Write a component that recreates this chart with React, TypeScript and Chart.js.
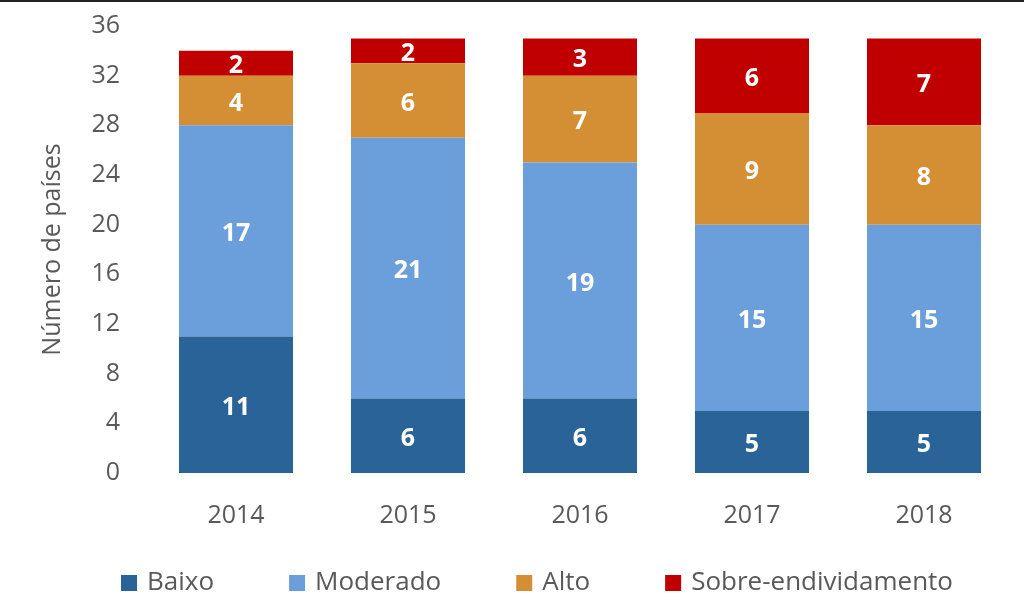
import React, { useEffect, useRef } from "react";
import { Chart, registerables } from "chart.js";

Chart.register(...registerables);

const categories = ["2014", "2015", "2016", "2017", "2018"];
const baixo = [11, 6, 6, 5, 5];
const moderado = [17, 21, 19, 15, 15];
const alto = [4, 6, 7, 9, 8];
const sobre = [2, 2, 3, 6, 7];
const seriesNames = ["Baixo", "Moderado", "Alto", "Sobre-endividamento"];
const seriesColors = ["#2A6398", "#6A9FDB", "#D48F35", "#C00000"];
const yTitle = "Número de países";

const FONT = "'Open Sans', 'Noto Sans', sans-serif";
const GRAY = "#595959";

const valueLabels = {
  id: "valueLabels",
  afterDatasetsDraw(chart: any) {
    const ctx = chart.ctx;
    ctx.save();
    ctx.font = `bold 25px ${FONT}`;
    ctx.fillStyle = "#FFFFFF";
    ctx.textAlign = "center";
    ctx.textBaseline = "middle";
    chart.data.datasets.forEach((ds: any, di: number) => {
      const meta = chart.getDatasetMeta(di);
      meta.data.forEach((el: any, i: number) => {
        const v = ds.data[i];
        if (!v) return;
        const props = el.getProps(["x", "y", "base"], true);
        ctx.fillText(String(v), props.x, (props.y + props.base) / 2 + 3);
      });
    });
    ctx.restore();
  },
};

// Wide-spaced bottom legend (items spaced like the original)
const wideLegend = {
  id: "wideLegend",
  afterDraw(chart: any) {
    const ctx = chart.ctx;
    const box = 16;
    const gapText = 10;
    const gapItem = 75;
    const cy = 583;
    const center = 537;
    ctx.save();
    ctx.font = `26px ${FONT}`;
    const items = chart.data.datasets.map((ds: any) => ({
      text: ds.label,
      color: ds.backgroundColor,
      w: ctx.measureText(ds.label).width,
    }));
    const total =
      items.reduce((s: number, it: any) => s + box + gapText + it.w, 0) + gapItem * (items.length - 1);
    let x = center - total / 2;
    ctx.textBaseline = "middle";
    ctx.textAlign = "left";
    items.forEach((it: any) => {
      ctx.fillStyle = it.color;
      ctx.fillRect(x, cy - box / 2, box, box);
      ctx.fillStyle = GRAY;
      ctx.fillText(it.text, x + box + gapText, cy);
      x += box + gapText + it.w + gapItem;
    });
    ctx.restore();
  },
};

export default function App() {
  const ref = useRef<HTMLCanvasElement | null>(null);
  useEffect(() => {
    if (!ref.current) return;
    const data = [baixo, moderado, alto, sobre];
    const chart = new Chart(ref.current, {
      type: "bar",
      data: {
        labels: categories,
        datasets: data.map((d, i) => ({
          label: seriesNames[i],
          data: d,
          backgroundColor: seriesColors[i],
          borderWidth: 0,
          categoryPercentage: 1,
          barPercentage: 0.663,
        })),
      },
      options: {
        animation: false,
        responsive: false,
        maintainAspectRatio: false,
        layout: { padding: { left: 0, right: 14, top: 26, bottom: 74 } },
        plugins: {
          tooltip: { enabled: false },
          title: { display: false },
          legend: { display: false },
        },
        scales: {
          x: {
            stacked: true,
            grid: { display: false, drawTicks: false },
            border: { display: false },
            ticks: { font: { family: FONT, size: 25 }, color: GRAY, padding: 28 },
            afterFit(scale: any) {
              scale.height = 60;
            },
          },
          y: {
            stacked: true,
            min: 0,
            max: 36,
            grid: { display: false, drawTicks: false },
            border: { display: false },
            ticks: { stepSize: 4, font: { family: FONT, size: 25 }, color: GRAY, padding: 30 },
            title: {
              display: true,
              text: yTitle,
              font: { family: FONT, size: 25 },
              color: GRAY,
              padding: { top: 38, bottom: 0 },
            },
            afterFit(scale: any) {
              scale.width = 150;
              scale.paddingTop = 0;
              scale.paddingBottom = 0;
            },
          },
        },
      },
      plugins: [valueLabels, wideLegend],
    });
    return () => chart.destroy();
  }, []);
  return (
    <div style={{ position: "fixed", left: 0, top: 0, width: 1024, height: 607, background: "#fff" }}>
      <div style={{ position: "absolute", left: 0, top: 0, width: 1024, height: 2, background: "#222" }} />
      <canvas ref={ref} width={1024} height={607} style={{ display: "block" }} />
    </div>
  );
}
